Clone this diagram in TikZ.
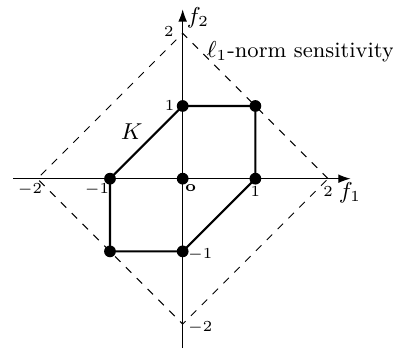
\documentclass[tikz,border=0pt]{standalone}
\usepackage{amsmath,amssymb}
\usepackage{tikz}
\usetikzlibrary{arrows.meta,positioning,calc}

\begin{document}
\begin{tikzpicture}[x=1cm,y=1cm,
    axis/.style={line width=0.45pt,-{Latex[length=4.8pt,width=3.4pt]}},
    ball/.style={line width=0.4pt,dashed},
    body/.style={line width=0.8pt,line join=round},
    vdot/.style={circle,fill=black,inner sep=0pt,minimum size=4.6pt},
    tick/.style={font=\fontsize{6.2}{7}\selectfont,inner sep=0pt},
    lbl/.style={font=\fontsize{8.6}{10}\selectfont,inner sep=0pt}]
  \useasboundingbox (-2.513,-2.384) rectangle (2.893,2.458);
  % axes
  \coordinate (xl) at (-2.33,0);
  \coordinate (xr) at (2.31,0);
  \coordinate (yb) at (0,-2.33);
  \coordinate (yt) at (0,2.33);
  \draw[axis] (xl) -- (xr);
  \draw[axis] (yb) -- (yt);
  \node[lbl] (f1) at (2.30,-0.20) {$f_1$};
  \node[lbl] (f2) at (0.21,2.21) {$f_2$};
  % l1 ball of radius 2
  \coordinate (e1) at (2,0);
  \coordinate (e2) at (0,2);
  \coordinate (e3) at (-2,0);
  \coordinate (e4) at (0,-2);
  \draw[ball] (e1) -- (e2) -- (e3) -- (e4) -- cycle;
  \node[lbl] (sens) at (1.62,1.74) {$\ell_1$-norm sensitivity};
  % the set K
  \node[vdot] (p1) at (0,1) {};
  \node[vdot] (p2) at (1,1) {};
  \node[vdot] (p3) at (1,0) {};
  \node[vdot] (p4) at (0,-1) {};
  \node[vdot] (p5) at (-1,-1) {};
  \node[vdot] (p6) at (-1,0) {};
  \node[vdot] (o) at (0,0) {};
  \draw[body] (p1.center) -- (p2.center) -- (p3.center) -- (p4.center)
    -- (p5.center) -- (p6.center) -- cycle;
  \node[lbl] (K) at (-0.70,0.65) {$K$};
  % ticks
  \node[tick] (ty1) at (-0.18,1.0) {$1$};
  \node[tick] (ty2) at (-0.19,2.02) {$2$};
  \node[tick] (tym1) at (0.24,-1.05) {$-1$};
  \node[tick] (tym2) at (0.24,-2.05) {$-2$};
  \node[tick] (tx1) at (1.0,-0.183) {$1$};
  \node[tick] (tx2) at (2.0,-0.183) {$2$};
  \node[tick] (txm1) at (-1.18,-0.155) {$-1$};
  \node[tick] (txm2) at (-2.10,-0.155) {$-2$};
  \node[tick] (to) at (0.11,-0.13) {$\mathbf{o}$};
\end{tikzpicture}
\end{document}
